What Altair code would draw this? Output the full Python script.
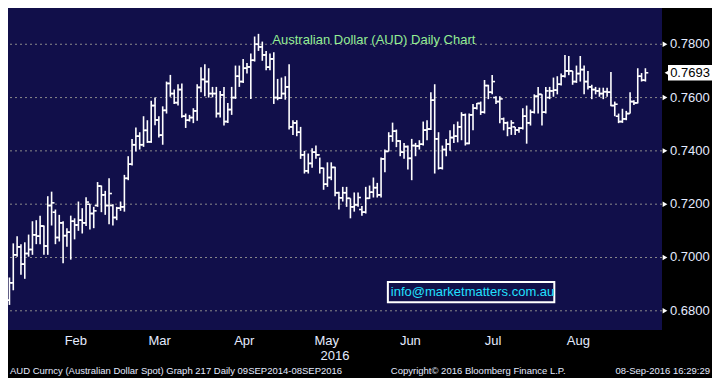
import altair as alt
import pandas as pd

# ---------------- data ----------------
opens = [
    0.6840, 0.6905, 0.7010, 0.7040, 0.6975, 0.7015, 0.7030, 0.7085, 0.7080, 0.7118,
    0.7043, 0.7195, 0.7170, 0.7075, 0.7130, 0.7082, 0.7095, 0.7136, 0.7122, 0.7140,
    0.7130, 0.7200, 0.7165, 0.7195, 0.7268, 0.7235, 0.7195, 0.7195, 0.7150, 0.7185,
    0.7190, 0.7297, 0.7350, 0.7423, 0.7455, 0.7423, 0.7477, 0.7434, 0.7570, 0.7516,
    0.7459, 0.7552, 0.7653, 0.7615, 0.7581, 0.7630, 0.7530, 0.7515, 0.7525, 0.7550,
    0.7638, 0.7668, 0.7660, 0.7615, 0.7615, 0.7540, 0.7610, 0.7510, 0.7555, 0.7600,
    0.7680, 0.7660, 0.7710, 0.7715, 0.7740, 0.7800, 0.7790, 0.7760, 0.7714, 0.7745,
    0.7600, 0.7598, 0.7615, 0.7640, 0.7490, 0.7505, 0.7470, 0.7385, 0.7325, 0.7353,
    0.7395, 0.7385, 0.7335, 0.7275, 0.7300, 0.7338, 0.7243, 0.7224, 0.7243, 0.7222,
    0.7190, 0.7198, 0.7180, 0.7170, 0.7222, 0.7245, 0.7262, 0.7235, 0.7370, 0.7398,
    0.7455, 0.7474, 0.7437, 0.7395, 0.7416, 0.7372, 0.7420, 0.7418, 0.7425, 0.7478,
    0.7482, 0.7590, 0.7445, 0.7335, 0.7405, 0.7425, 0.7450, 0.7455, 0.7490, 0.7535,
    0.7428, 0.7535, 0.7560, 0.7578, 0.7545, 0.7645, 0.7620, 0.7600, 0.7585, 0.7520,
    0.7505, 0.7485, 0.7490, 0.7478, 0.7485, 0.7530, 0.7505, 0.7545, 0.7605, 0.7612,
    0.7545, 0.7600, 0.7625, 0.7628, 0.7650, 0.7680, 0.7700, 0.7700, 0.7660, 0.7690,
    0.7705, 0.7660, 0.7640, 0.7630, 0.7625, 0.7615, 0.7622, 0.7620, 0.7570, 0.7530,
    0.7510, 0.7520, 0.7540, 0.7585, 0.7580, 0.7680, 0.7665,
]
highs = [
    0.6925, 0.7053, 0.7080, 0.7050, 0.7057, 0.7086, 0.7136, 0.7140, 0.7157, 0.7120,
    0.7230, 0.7247, 0.7180, 0.7160, 0.7136, 0.7110, 0.7157, 0.7147, 0.7210, 0.7185,
    0.7226, 0.7200, 0.7190, 0.7283, 0.7270, 0.7250, 0.7297, 0.7200, 0.7190, 0.7210,
    0.7310, 0.7380, 0.7445, 0.7488, 0.7470, 0.7530, 0.7515, 0.7588, 0.7600, 0.7530,
    0.7567, 0.7660, 0.7685, 0.7630, 0.7650, 0.7653, 0.7540, 0.7535, 0.7560, 0.7650,
    0.7714, 0.7725, 0.7710, 0.7640, 0.7640, 0.7625, 0.7640, 0.7580, 0.7640, 0.7720,
    0.7720, 0.7745, 0.7730, 0.7765, 0.7829, 0.7839, 0.7810, 0.7775, 0.7765, 0.7770,
    0.7670, 0.7675, 0.7680, 0.7725, 0.7515, 0.7515, 0.7490, 0.7400, 0.7390, 0.7410,
    0.7420, 0.7375, 0.7337, 0.7357, 0.7357, 0.7340, 0.7247, 0.7265, 0.7265, 0.7222,
    0.7244, 0.7244, 0.7193, 0.7265, 0.7270, 0.7300, 0.7280, 0.7375, 0.7405, 0.7470,
    0.7506, 0.7480, 0.7440, 0.7430, 0.7420, 0.7445, 0.7430, 0.7440, 0.7510, 0.7515,
    0.7620, 0.7650, 0.7470, 0.7420, 0.7445, 0.7477, 0.7500, 0.7510, 0.7545, 0.7540,
    0.7540, 0.7576, 0.7580, 0.7585, 0.7666, 0.7648, 0.7685, 0.7605, 0.7605, 0.7525,
    0.7510, 0.7515, 0.7490, 0.7490, 0.7560, 0.7570, 0.7555, 0.7612, 0.7640, 0.7612,
    0.7640, 0.7640, 0.7675, 0.7680, 0.7690, 0.7760, 0.7756, 0.7700, 0.7720, 0.7756,
    0.7720, 0.7700, 0.7648, 0.7640, 0.7637, 0.7637, 0.7637, 0.7696, 0.7585, 0.7540,
    0.7558, 0.7550, 0.7620, 0.7590, 0.7710, 0.7692, 0.7710,
]
lows = [
    0.6822, 0.6877, 0.7003, 0.6935, 0.6920, 0.7003, 0.7010, 0.7050, 0.7050, 0.7010,
    0.7010, 0.7120, 0.7050, 0.7060, 0.6978, 0.7040, 0.6992, 0.7068, 0.7100, 0.7090,
    0.7118, 0.7105, 0.7110, 0.7190, 0.7170, 0.7160, 0.7125, 0.7120, 0.7140, 0.7175,
    0.7172, 0.7290, 0.7345, 0.7398, 0.7405, 0.7415, 0.7430, 0.7430, 0.7496, 0.7450,
    0.7423, 0.7540, 0.7603, 0.7576, 0.7570, 0.7524, 0.7486, 0.7510, 0.7504, 0.7513,
    0.7620, 0.7605, 0.7600, 0.7601, 0.7525, 0.7525, 0.7495, 0.7505, 0.7535, 0.7595,
    0.7640, 0.7655, 0.7690, 0.7595, 0.7735, 0.7775, 0.7738, 0.7702, 0.7702, 0.7576,
    0.7590, 0.7595, 0.7592, 0.7480, 0.7460, 0.7455, 0.7370, 0.7315, 0.7315, 0.7337,
    0.7370, 0.7315, 0.7254, 0.7265, 0.7290, 0.7230, 0.7180, 0.7210, 0.7190, 0.7147,
    0.7172, 0.7190, 0.7157, 0.7165, 0.7220, 0.7225, 0.7225, 0.7225, 0.7320, 0.7398,
    0.7434, 0.7414, 0.7380, 0.7370, 0.7330, 0.7290, 0.7380, 0.7405, 0.7420, 0.7440,
    0.7478, 0.7315, 0.7330, 0.7330, 0.7380, 0.7400, 0.7430, 0.7432, 0.7440, 0.7420,
    0.7425, 0.7477, 0.7555, 0.7535, 0.7540, 0.7594, 0.7612, 0.7576, 0.7504, 0.7477,
    0.7455, 0.7460, 0.7460, 0.7468, 0.7480, 0.7427, 0.7495, 0.7540, 0.7540, 0.7495,
    0.7540, 0.7594, 0.7603, 0.7612, 0.7645, 0.7675, 0.7684, 0.7648, 0.7655, 0.7660,
    0.7612, 0.7630, 0.7594, 0.7612, 0.7603, 0.7594, 0.7603, 0.7567, 0.7530, 0.7504,
    0.7505, 0.7515, 0.7540, 0.7572, 0.7578, 0.7660, 0.7660,
]
closes = [
    0.6905, 0.7010, 0.7040, 0.6975, 0.7015, 0.7030, 0.7085, 0.7080, 0.7118, 0.7043,
    0.7195, 0.7205, 0.7075, 0.7130, 0.7082, 0.7095, 0.7136, 0.7122, 0.7140, 0.7130,
    0.7208, 0.7165, 0.7175, 0.7268, 0.7235, 0.7195, 0.7240, 0.7150, 0.7185, 0.7190,
    0.7297, 0.7350, 0.7423, 0.7455, 0.7423, 0.7477, 0.7434, 0.7570, 0.7516, 0.7459,
    0.7552, 0.7653, 0.7615, 0.7581, 0.7630, 0.7530, 0.7515, 0.7525, 0.7550, 0.7638,
    0.7668, 0.7660, 0.7615, 0.7615, 0.7540, 0.7610, 0.7510, 0.7555, 0.7600, 0.7680,
    0.7660, 0.7710, 0.7715, 0.7740, 0.7800, 0.7790, 0.7760, 0.7714, 0.7745, 0.7600,
    0.7598, 0.7615, 0.7640, 0.7490, 0.7505, 0.7470, 0.7385, 0.7325, 0.7353, 0.7395,
    0.7385, 0.7335, 0.7275, 0.7300, 0.7338, 0.7243, 0.7224, 0.7243, 0.7222, 0.7190,
    0.7198, 0.7225, 0.7170, 0.7222, 0.7245, 0.7262, 0.7235, 0.7370, 0.7398, 0.7455,
    0.7474, 0.7437, 0.7395, 0.7416, 0.7372, 0.7420, 0.7418, 0.7425, 0.7478, 0.7482,
    0.7590, 0.7445, 0.7335, 0.7405, 0.7425, 0.7450, 0.7455, 0.7490, 0.7535, 0.7428,
    0.7535, 0.7560, 0.7578, 0.7545, 0.7645, 0.7620, 0.7660, 0.7585, 0.7595, 0.7505,
    0.7485, 0.7505, 0.7478, 0.7485, 0.7530, 0.7505, 0.7545, 0.7605, 0.7612, 0.7545,
    0.7625, 0.7625, 0.7628, 0.7650, 0.7680, 0.7700, 0.7700, 0.7660, 0.7690, 0.7705,
    0.7660, 0.7640, 0.7630, 0.7625, 0.7615, 0.7622, 0.7620, 0.7570, 0.7575, 0.7510,
    0.7520, 0.7540, 0.7585, 0.7580, 0.7680, 0.7665, 0.7693,
]

# month boundaries (trading-day index) and names
month_starts = [6.95, 27.73, 50.7, 71.9, 93.7, 115.6, 136.9, 160.1]
month_names = ["Feb", "Mar", "Apr", "May", "Jun", "Jul", "Aug"]
major_ticks = [0.68, 0.70, 0.72, 0.74, 0.76, 0.78]
major_labels = ["0.6800", "0.7000", "0.7200", "0.7400", "0.7600", "0.7800"]
minor_ticks = [0.69, 0.71, 0.73, 0.75, 0.77, 0.79]
last_price = [0.7693]
last_label = ["0.7693"]

title_text = "Australian Dollar (AUD) Daily Chart"
watermark = "info@marketmatters.com.au"
footer_left = "AUD Curncy (Australian Dollar Spot) Graph 217  Daily 09SEP2014-08SEP2016"
footer_mid = "Copyright\u00a9 2016 Bloomberg Finance L.P."
footer_right = "08-Sep-2016 16:29:29"
year_text = "2016"

# ---------------- layout ----------------
W, H = 654, 322
PR, PB = 50, 48
sx, sy = W / 668.0, H / 336.0
NAVY = "#110f4a"
FONT = "Liberation Sans"
LABEL = "#e4ebff"
GRID = "#8a8a8a"

n = len(closes)
df = pd.DataFrame({"i": list(range(n)), "o": opens, "h": highs, "l": lows, "c": closes})

xs = alt.Scale(domain=[-0.38, 170.33], nice=False, zero=False)
ys = alt.Scale(domain=[0.6728, 0.7936], nice=False, zero=False)

base = alt.Chart(df)

# horizontal grid lines at major ticks
hgrid = alt.Chart(pd.DataFrame({"v": major_ticks})).mark_rule(
    color=GRID, strokeDash=[2, 3], strokeWidth=1
).encode(y=alt.Y("v:Q", scale=ys, axis=None))

hl = base.mark_rule(color="white", strokeWidth=1.6).encode(
    x=alt.X(
        "i:Q", scale=xs, title=None,
        axis=alt.Axis(
            values=month_starts, labels=False, grid=True, gridColor=GRID,
            gridDash=[2, 3], gridWidth=1, tickColor="white", tickSize=4,
            tickWidth=1, domainColor="white", domainWidth=2, orient="bottom",
        ),
    ),
    y=alt.Y(
        "l:Q", scale=ys, title=None,
        axis=alt.Axis(
            orient="right", values=minor_ticks, grid=False, labels=False,
            tickColor="white", tickSize=4, tickWidth=1,
            domainColor="white", domainWidth=2,
        ),
    ),
    y2="h:Q",
)

op = base.transform_calculate(xa="datum.i - 0.75").mark_rule(
    color="white", strokeWidth=1.6
).encode(x=alt.X("xa:Q", scale=xs, axis=None), x2="i:Q", y=alt.Y("o:Q", scale=ys, axis=None))

cl = base.transform_calculate(xb="datum.i + 0.75").mark_rule(
    color="white", strokeWidth=1.6
).encode(x=alt.X("i:Q", scale=xs, axis=None), x2="xb:Q", y=alt.Y("c:Q", scale=ys, axis=None))

# month labels centred between boundaries
mdf = pd.DataFrame({
    "m": month_names,
    "s": month_starts[:-1],
    "e": month_starts[1:],
})
months = alt.Chart(mdf).transform_calculate(mid="(datum.s + datum.e) / 2").mark_text(
    color=LABEL, font=FONT, fontSize=13, baseline="middle", align="center"
).encode(x=alt.X("mid:Q", scale=xs, axis=None), y=alt.value(H + 11), text="m:N")

def txt(s, x, y, color, size, align="left", baseline="middle"):
    return alt.Chart(pd.DataFrame({"t": [s]})).mark_text(
        color=color, font=FONT, fontSize=size, align=align, baseline=baseline
    ).encode(x=alt.value(x), y=alt.value(y), text="t:N")

year = txt(year_text, 334 * sx, H + 26, LABEL, 13, align="center")
title = txt(title_text, 270 * sx, 33 * sy, "#94ee94", 13)
foot1 = txt(footer_left, 2, H + 41, LABEL, 9.5)
foot2 = txt(footer_mid, 391 * sx, H + 41, LABEL, 9.5)
foot3 = txt(footer_right, W + PR - 2, H + 41, LABEL, 9.5, align="right")

# watermark box
wm_box = alt.Chart(pd.DataFrame({"t": [watermark]})).mark_rect(
    fill=NAVY, stroke="white", strokeWidth=2
).encode(x=alt.value(388 * sx), x2=alt.value(558 * sx), y=alt.value(286 * sy), y2=alt.value(307 * sy))
wm_text = txt(watermark, 391 * sx, 296.5 * sy, "#22e0ff", 13)

# right-axis labels with triangle markers
adf = pd.DataFrame({"v": major_ticks, "t": major_labels})
tri = alt.Chart(adf).mark_point(
    shape="triangle-right", filled=True, color="white", size=30, opacity=1
).encode(x=alt.value(W + 3), y=alt.Y("v:Q", scale=ys, axis=None))
ylab = alt.Chart(adf).mark_text(
    color=LABEL, font=FONT, fontSize=13, align="left", baseline="middle"
).encode(x=alt.value(W + 8), y=alt.Y("v:Q", scale=ys, axis=None), text="t:N")

# last price tag
ldf = pd.DataFrame({"v": last_price, "t": last_label})
lp_box = alt.Chart(ldf).transform_calculate(
    y1="datum.v + 0.0029", y2="datum.v - 0.0029"
).mark_rect(fill="white").encode(
    x=alt.value(W + 6), x2=alt.value(W + PR), y=alt.Y("y1:Q", scale=ys, axis=None), y2="y2:Q"
)
lp_tri = alt.Chart(ldf).mark_point(
    shape="triangle-left", filled=True, color="white", size=60, opacity=1
).encode(x=alt.value(W + 6), y=alt.Y("v:Q", scale=ys, axis=None))
lp_text = alt.Chart(ldf).mark_text(
    color="#000000", font=FONT, fontSize=13, align="center", baseline="middle"
).encode(x=alt.value(W + 28), y=alt.Y("v:Q", scale=ys, axis=None), text="t:N")

chart = alt.layer(
    hgrid, hl, op, cl, months, year, title, foot1, foot2, foot3,
    wm_box, wm_text, tri, ylab, lp_box, lp_tri, lp_text,
).properties(
    width=W, height=H,
    autosize=alt.AutoSizeParams(type="none"),
    padding={"left": 0, "top": 0, "right": PR, "bottom": PB},
).configure(background="black").configure_view(fill=NAVY, stroke=None)

chart.save("out.html", embed_options={"renderer": "svg", "actions": False})
